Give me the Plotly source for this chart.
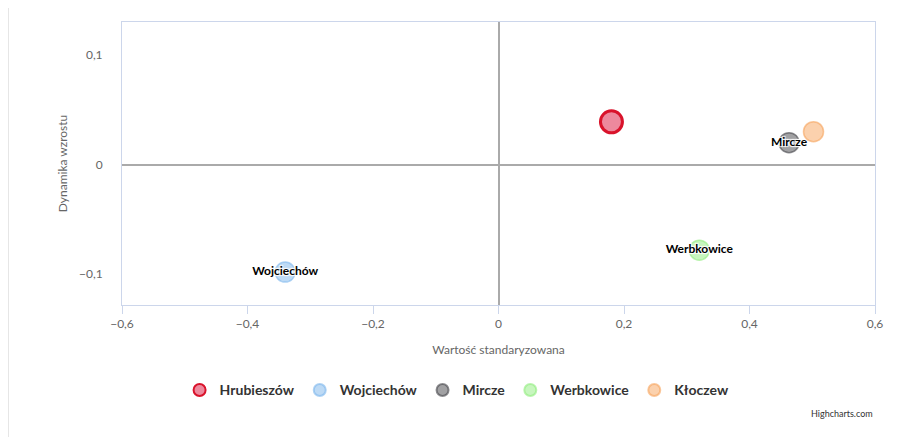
import plotly.graph_objects as go

names = ["Hrubieszów", "Wojciechów", "Mircze", "Werbkowice", "Kłoczew"]
x_vals = [0.18, -0.34, 0.463, 0.32, 0.502]
y_vals = [0.039, -0.098, 0.020, -0.078, 0.030]
show_label = [False, True, True, True, False]
fill_colors = ["rgba(220,20,60,0.5)", "rgba(124,181,236,0.5)", "rgba(67,67,72,0.5)",
               "rgba(144,237,125,0.5)", "rgba(247,163,92,0.5)"]
line_colors = ["#d9132b", "rgba(124,181,236,0.6)", "rgba(67,67,72,0.6)",
               "rgba(144,237,125,0.6)", "rgba(247,163,92,0.6)"]

fig = go.Figure()
for i, name in enumerate(names):
    fig.add_trace(go.Scatter(
        x=[x_vals[i]], y=[y_vals[i]], name=name,
        mode="markers+text" if show_label[i] else "markers",
        text=[name] if show_label[i] else None,
        textposition="middle center",
        textfont=dict(family="Lato, sans-serif", size=12, color="black", weight="bold",
                      shadow="1px 1px 1px white, -1px -1px 1px white, 1px -1px 1px white, -1px 1px 1px white"),
        marker=dict(size=22 if i == 0 else 20, color=fill_colors[i],
                    line=dict(color=line_colors[i], width=3 if i == 0 else 1.5)),
    ))

fig.update_layout(
    width=889, height=429,
    margin=dict(l=114, r=22, t=14, b=132),
    plot_bgcolor="white", paper_bgcolor="white",
    separators=", ",
    font=dict(family="Lato, sans-serif", size=12, color="#666666"),
    showlegend=True,
    legend=dict(orientation="h", x=0.445, xanchor="center", y=-0.245, yanchor="top",
                font=dict(size=14, color="#333333", weight="bold"), itemsizing="constant"),
    xaxis=dict(range=[-0.6, 0.6], dtick=0.2, showgrid=False,
               zeroline=True, zerolinecolor="#aaaaaa", zerolinewidth=2,
               showline=True, linecolor="#ccd6eb", mirror=True,
               ticks="outside", tickcolor="#ccd6eb", ticklen=8,
               title=dict(text="Wartość standaryzowana", font=dict(size=12, color="#666666"))),
    yaxis=dict(range=[-0.128, 0.13], tickvals=[-0.1, 0, 0.1], showgrid=False,
               zeroline=True, zerolinecolor="#aaaaaa", zerolinewidth=2,
               showline=True, linecolor="#ccd6eb", mirror=True,
               ticklabelstandoff=16,
               title=dict(text="Dynamika wzrostu", standoff=8, font=dict(size=12, color="#666666"))),
)

fig.add_annotation(text="Highcharts.com", xref="paper", yref="paper", x=1.0, y=-0.385,
                   xanchor="right", yanchor="middle", showarrow=False,
                   font=dict(size=9, color="#333333"))
fig.add_shape(type="line", xref="paper", yref="paper", x0=-0.151, x1=-0.151, y0=-0.47, y1=1.05,
              line=dict(color="#e0e0e0", width=1))

fig.write_html("out.html")
